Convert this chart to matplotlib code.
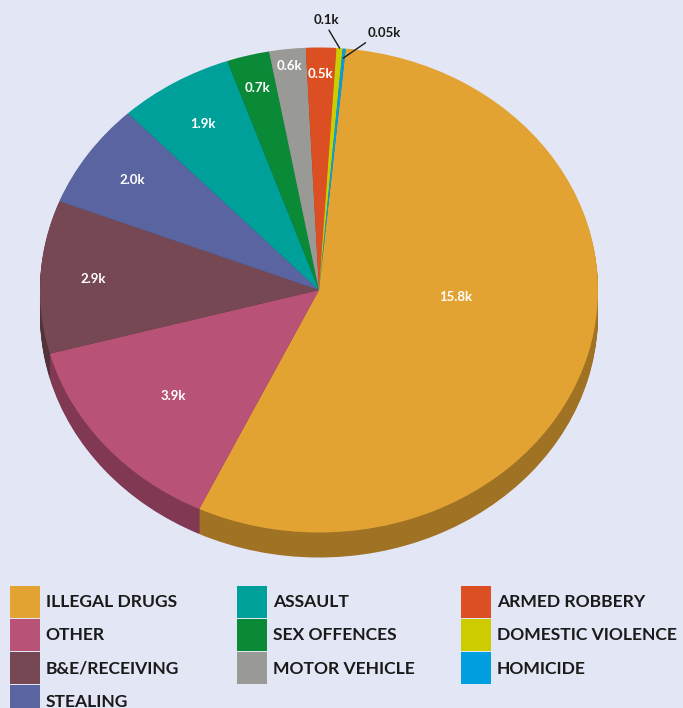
import numpy as np
import matplotlib.pyplot as plt
from matplotlib.patches import Patch
from matplotlib.colors import to_rgb

# offence categories, counts in thousands
crimes = ['ILLEGAL DRUGS', 'OTHER', 'B&E/RECEIVING', 'STEALING', 'ASSAULT',
          'SEX OFFENCES', 'MOTOR VEHICLE', 'ARMED ROBBERY', 'DOMESTIC VIOLENCE', 'HOMICIDE']
values = [15.8, 3.9, 2.9, 2.0, 1.9, 0.7, 0.6, 0.5, 0.1, 0.05]
value_labels = ['15.8k', '3.9k', '2.9k', '2.0k', '1.9k', '0.7k', '0.6k', '0.5k', '0.1k', '0.05k']
colors = ['#e3a333', '#b85276', '#764853', '#5a64a0', '#00a09a',
          '#0a8a37', '#999996', '#dc4f22', '#cccc00', '#00a0e0']

BG = '#e3e6f4'
W, H = 683, 708
cx, cy, rx, ry, depth = 319, 290, 279, 242.5, 25

fig = plt.figure(figsize=(W / 100, H / 100), dpi=100, facecolor=BG)

# axes box sized so the unit circle shows as the tilted ellipse
xl, xr, yb, yt = -1.15, 1.15, -1.35, 1.2
left_px = cx + xl * rx
top_px = cy - yt * ry
ax = fig.add_axes([left_px / W, 1 - (top_px + (yt - yb) * ry) / H,
                   (xr - xl) * rx / W, (yt - yb) * ry / H])
ax.set_facecolor('none')

start = 84.5
side_colors = [tuple(c * 0.7 for c in to_rgb(col)) for col in colors]

# side wall: stacked copies of the pie, darker, from the bottom up
for k in range(depth, 0, -1):
    ax.pie(values, colors=side_colors, startangle=start, counterclock=False,
           center=(0, -k / ry), radius=1, wedgeprops=dict(linewidth=0))

wedges, _ = ax.pie(values, colors=colors, startangle=start, counterclock=False,
                   center=(0, 0), radius=1, wedgeprops=dict(linewidth=0))

# data label placement (fraction of radius, angle tweak)
label_r = [0.49, 0.68, 0.81, 0.81, 0.80, 0.86, 0.93, 0.89]
label_shift = [12, 0, 0, 0, 0, 0, 0, 0]
font = dict(family='Lato', fontweight='bold', fontsize=9.5)
for i, w in enumerate(wedges):
    mid = np.deg2rad((w.theta1 + w.theta2) / 2)
    if i < len(label_r):
        a = mid + np.deg2rad(label_shift[i])
        ax.text(label_r[i] * np.cos(a), label_r[i] * np.sin(a), value_labels[i],
                ha='center', va='center', color='white', **font)
    else:
        # small slices: label outside with a connector
        r, offs, rel = {8: (1.0, (-13, 28), (0.5, 0.0)),
                        9: (0.96, (41, 25), (0.15, 0.1))}[i]
        ax.annotate(value_labels[i], xy=(r * np.cos(mid), r * np.sin(mid)),
                    xytext=offs, textcoords='offset pixels',
                    ha='center', va='center', color='#1a1a1a', **font,
                    arrowprops=dict(arrowstyle='-', color='#1a1a1a', lw=1,
                                    shrinkA=1, shrinkB=0, relpos=rel))

ax.set_xlim(xl, xr)
ax.set_ylim(yb, yt)
ax.set_aspect('auto')
ax.axis('off')

# legend: three columns, each its own legend so the column positions are fixed
fs = 12.6
col_x = [10, 237, 461]
col_items = [range(0, 4), range(4, 7), range(7, 10)]
for x0, items in zip(col_x, col_items):
    handles = [Patch(facecolor=colors[i], edgecolor='none') for i in items]
    leg = fig.legend(handles, [crimes[i] for i in items], loc='upper left',
                     bbox_to_anchor=(x0 / W, 1 - 586 / H), frameon=False,
                     borderaxespad=0, borderpad=0,
                     prop=dict(family='Lato', weight='bold', size=fs),
                     handlelength=1.71, handleheight=2.45, handletextpad=0.34,
                     labelspacing=0.05)
    for t in leg.get_texts():
        t.set_color('#1a1a1a')

fig.savefig('out.png', dpi=100, facecolor=BG)
